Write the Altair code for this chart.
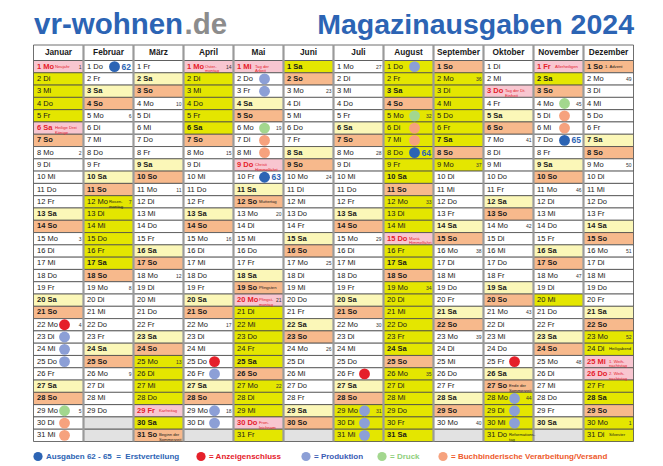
import datetime as dt
import altair as alt
import pandas as pd

YEAR = 2024
FONT = "Liberation Sans, Arial, sans-serif"

months = ["Januar", "Februar", "März", "April", "Mai", "Juni", "Juli",
          "August", "September", "Oktober", "November", "Dezember"]
weekday_abbr = ["Mo", "Di", "Mi", "Do", "Fr", "Sa", "So"]

# bright yellow periods: (month, first day, last day)
yellow_ranges = [(1, 2, 5), (2, 12, 17), (3, 25, 30), (4, 2, 6), (5, 21, 31),
                 (6, 1, 1), (7, 29, 31), (8, 1, 31), (9, 2, 9), (10, 28, 31),
                 (11, 2, 2), (11, 20, 20), (12, 23, 31)]

# public holidays (pink cell, red text)
holidays = [(1, 1, "Neujahr"), (1, 6, "Heilige Drei\nKönige"), (3, 29, "Karfreitag"),
            (4, 1, "Oster-\nmontag"), (5, 1, "Tag der\nArbeit"),
            (5, 9, "Christi\nHimmelfahrt"), (5, 20, "Pfingst-\nmontag"),
            (5, 30, "Fron-\nleichnam"), (8, 15, "Mariä\nHimmelfahrt"),
            (10, 3, "Tag der Dt.\nEinheit"), (11, 1, "Allerheiligen"),
            (12, 25, "1. Weih-\nnachtstag"), (12, 26, "2. Weih-\nnachtstag")]

# other notes (dark text)
notes = [(2, 12, "Rosen-\nmontag"), (3, 31, "Beginn der\nSommerzeit"),
         (5, 12, "Muttertag"), (5, 19, "Pfingsten"), (10, 27, "Ende der\nSommerzeit"),
         (10, 31, "Reformations-\ntag"), (12, 1, "1. Advent"), (12, 24, "Heiligabend"),
         (12, 31, "Silvester")]

anzeigenschluss = [(1, 22), (4, 25), (7, 26), (10, 25)]
produktion = [(1, 23), (1, 24), (1, 25), (4, 26), (4, 29), (4, 30), (5, 2), (5, 3),
              (7, 29), (7, 30), (7, 31), (8, 1), (10, 28), (10, 29), (10, 30)]
druck = [(1, 29), (5, 6), (8, 5), (11, 4)]
versand = [(1, 30), (1, 31), (5, 7), (5, 8), (8, 6), (8, 7), (11, 5), (11, 6)]
erstverteilung = [(2, 1, "62"), (5, 10, "63"), (8, 8, "64"), (11, 7, "65")]

# ---- colours ----
C_BLUE = "#2c64b4"
C_RED = "#e5202a"
C_PROD = "#8c9fd6"
C_GREEN = "#a3d78e"
C_ORANGE = "#f6a27e"
C_TEXT = "#1a1a1a"

cell_colors = {"weiss": "#ffffff", "samstag": "#fbf7b8", "sonntag": "#f7b98c",
               "feiertag": "#f8c6d0", "gelb": "#e4e600", "leer": "#e2e2e2"}

hol_map = {(m, d): t for m, d, t in holidays}
note_map = {(m, d): t for m, d, t in notes}
yellow_set = {(m, d) for m, a, b in yellow_ranges for d in range(a, b + 1)}
circle_map = {}
for lst, col in [(anzeigenschluss, C_RED), (produktion, C_PROD), (druck, C_GREEN),
                 (versand, C_ORANGE)]:
    for k in lst:
        circle_map[k] = col
issue_map = {}
for m, d, n in erstverteilung:
    circle_map[(m, d)] = C_BLUE
    issue_map[(m, d)] = n

recs = []
for mi in range(12):
    m = mi + 1
    for d in range(1, 32):
        r = dict(x0=mi, x1=mi + 1, xc=mi + 0.62, xn=mi + (0.43 if d < 10 else 0.51),
                 y0=d - 1, y1=d, yc=d - 0.5,
                 label="", bold=0, tcol=C_TEXT, wk="", note="", ncol=C_TEXT,
                 circ="", issue="")
        try:
            date = dt.date(YEAR, m, d)
        except ValueError:
            r["cat"] = "leer"
            r["fillc"] = cell_colors["leer"]
            recs.append(r)
            continue
        wd = date.weekday()
        r["label"] = f"{d} {weekday_abbr[wd]}"
        if (m, d) in hol_map:
            cat = "feiertag"
            r["bold"] = 1
            r["tcol"] = C_RED
            r["note"] = hol_map[(m, d)]
            r["ncol"] = C_RED
        elif wd == 6:
            cat = "sonntag"
            r["bold"] = 1
        elif (m, d) in yellow_set:
            cat = "gelb"
            r["bold"] = 1 if wd == 5 else 0
        elif wd == 5:
            cat = "samstag"
            r["bold"] = 1
        else:
            cat = "weiss"
        r["cat"] = cat
        r["fillc"] = cell_colors[cat]
        if (m, d) in note_map:
            r["note"] = note_map[(m, d)]
        if wd == 0:
            r["wk"] = str(date.isocalendar()[1])
        r["circ"] = circle_map.get((m, d), "")
        r["issue"] = issue_map.get((m, d), "")
        recs.append(r)

df = pd.DataFrame(recs)
head = pd.DataFrame({"name": months, "x0": list(range(12)), "x1": list(range(1, 13)),
                     "xc": [i + 0.5 for i in range(12)]})
head["y0"] = -1.26
head["y1"] = 0.0
head["yc"] = -0.63
seps = pd.DataFrame({"x": list(range(1, 12)), "ya": -1.26, "yb": 31.0})

xs = alt.Scale(domain=[0, 12], range=[25.5, 625.5], nice=False, zero=False)
ys = alt.Scale(domain=[0, 31], range=[52.5, 433.5], nice=False, zero=False)
X = lambda f: alt.X(f, scale=xs, axis=None)
Y = lambda f: alt.Y(f, scale=ys, axis=None)

base = alt.Chart(df)

bg = base.mark_rect(stroke="#4a4a4a", strokeWidth=0.8).encode(
    x=X("x0:Q"), x2="x1:Q", y=Y("y0:Q"), y2="y1:Q",
    color=alt.Color("fillc:N", scale=None))

hbg = alt.Chart(head).mark_rect(fill="white", stroke="#4a4a4a", strokeWidth=0.8).encode(
    x=X("x0:Q"), x2="x1:Q", y=Y("y0:Q"), y2="y1:Q")
htx = alt.Chart(head).mark_text(font=FONT, fontSize=8.3, fontWeight="bold", color=C_TEXT,
                                baseline="middle").encode(
    x=X("xc:Q"), y=Y("yc:Q"), text="name:N")

sep = alt.Chart(seps).mark_rule(color="#9a9a9a", strokeWidth=2.2).encode(
    x=X("x:Q"), y=Y("ya:Q"), y2="yb:Q")

day_norm = base.transform_filter("datum.label != '' && datum.bold == 0").mark_text(
    font=FONT, fontSize=7.5, align="left", baseline="middle", dx=3.5).encode(
    x=X("x0:Q"), y=Y("yc:Q"), text="label:N", color=alt.Color("tcol:N", scale=None))
day_bold = base.transform_filter("datum.bold == 1").mark_text(
    font=FONT, fontSize=7.5, fontWeight="bold", align="left", baseline="middle", dx=3.5).encode(
    x=X("x0:Q"), y=Y("yc:Q"), text="label:N", color=alt.Color("tcol:N", scale=None))

wk = base.transform_filter("datum.wk != ''").mark_text(
    font=FONT, fontSize=5, align="right", baseline="middle", dx=-2, color="#333333").encode(
    x=X("x1:Q"), y=Y("yc:Q"), text="wk:N")

note = base.transform_filter("datum.note != ''").mark_text(
    font=FONT, fontSize=4.2, align="left", baseline="middle", lineBreak="\n",
    lineHeight=4.7).encode(
    x=X("xn:Q"), y=Y("yc:Q"), text="note:N", color=alt.Color("ncol:N", scale=None))

circ = base.transform_filter("datum.circ != ''").mark_circle(size=118, opacity=1).encode(
    x=X("xc:Q"), y=Y("yc:Q"), color=alt.Color("circ:N", scale=None))

issue = base.transform_filter("datum.issue != ''").mark_text(
    font=FONT, fontSize=8.5, fontWeight="bold", align="left", baseline="middle", dx=38,
    color=C_BLUE).encode(x=X("x0:Q"), y=Y("yc:Q"), text="issue:N")

one = pd.DataFrame({"a": [0]})
def txt(s, x, y, size, color, align="left", weight="bold", baseline="alphabetic"):
    return alt.Chart(one).mark_text(text=s, font=FONT, fontSize=size, fontWeight=weight,
                                    color=color, align=align, baseline=baseline).encode(
        x=alt.value(x), y=alt.value(y))

titles = [txt("vr-wohnen", 26, 25.5, 29.5, C_BLUE),
          txt(".de", 176.5, 25.5, 29.5, "#8c8c8c"),
          txt("Magazinausgaben 2024", 626, 25.5, 28.5, C_BLUE, align="right")]

NB = "\u00a0"
legend_items = [(C_BLUE, f"Ausgaben 62 - 65 {NB}={NB} Erstverteilung", C_BLUE, 30),
                (C_RED, "= Anzeigenschluss", C_RED, 193),
                (C_PROD, "= Produktion", "#3a5cb4", 298),
                (C_GREEN, "= Druck", "#8fcf7c", 374),
                (C_ORANGE, "= Buchbinderische Verarbeitung/Versand", "#ee5a2c", 435)]
LEG_Y = 448.5
legend = []
for ccol, s, tcol, lx in legend_items:
    legend.append(alt.Chart(one).mark_circle(size=85, opacity=1, color=ccol).encode(
        x=alt.value(lx), y=alt.value(LEG_Y)))
    legend.append(txt(s, lx + 8, LEG_Y, 8.0, tcol, weight="bold", baseline="middle"))

chart = alt.layer(bg, hbg, sep, htx, day_norm, day_bold, wk, note, circ, issue,
                  *titles, *legend).properties(
    width=647, height=458, padding=0, autosize="none"
).configure_view(stroke=None)

chart.save("out.html", embed_options={"renderer": "svg", "actions": False})
